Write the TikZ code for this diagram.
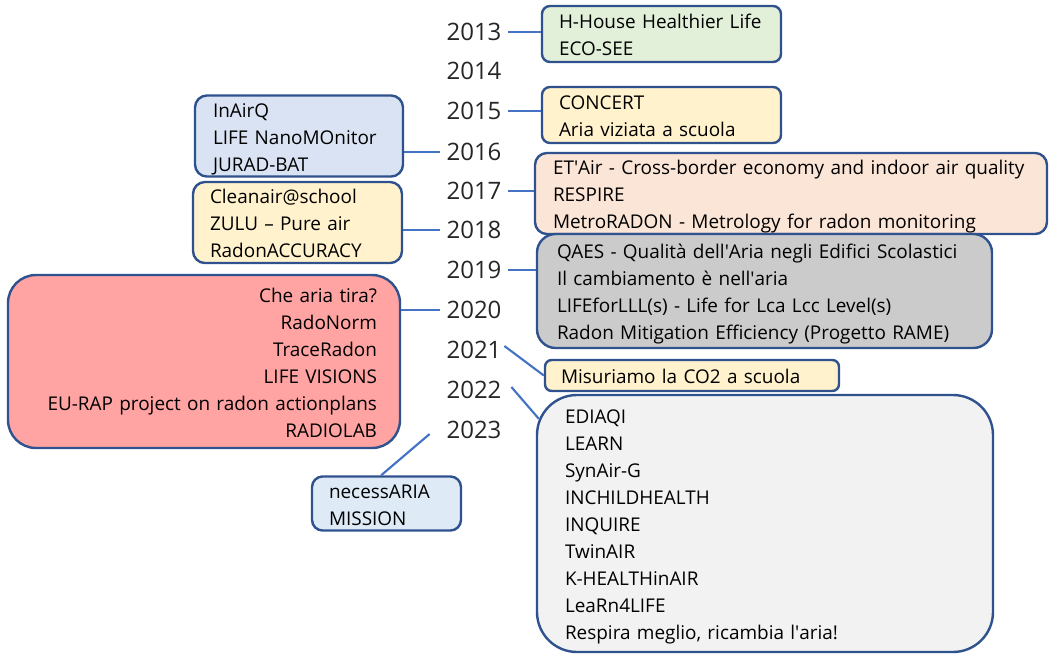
\documentclass[tikz,border=0pt]{standalone}
\usepackage{fontspec}
\setmainfont{Open Sans}
\definecolor{bord}{HTML}{2F528F}
\definecolor{conn}{HTML}{4472C4}
\definecolor{fgreen}{HTML}{E2F0D9}
\definecolor{fyellow}{HTML}{FFF2CC}
\definecolor{fblue}{HTML}{DAE3F3}
\definecolor{forange}{HTML}{FBE5D6}
\definecolor{fgray}{HTML}{CBCBCB}
\definecolor{fred}{HTML}{FFA3A3}
\definecolor{flight}{HTML}{F2F2F2}
\definecolor{fsky}{HTML}{DEEBF7}
\newcommand{\apos}{\textquotesingle}
\newcommand{\mytopstrut}{\rule{0pt}{16.5pt}}
\newcommand{\mybotstrut}{\rule[-3.8pt]{0pt}{3.8pt}}
\tikzset{
  box/.style={draw=bord, line width=1.8pt, rounded corners=6pt, align=left, inner ysep=0pt,
    font=\fontsize{14.2}{20.25}\selectfont, execute at begin node=\mytopstrut, execute at end node=\mybotstrut},
  year/.style={font=\fontsize{18}{20}\selectfont, inner xsep=5pt, inner ysep=0pt, text=black!85},
  link/.style={draw=conn, line width=1.6pt}
}
\begin{document}
\begin{tikzpicture}[x=0.75pt,y=-0.75pt]
\useasboundingbox (0,0) rectangle (1051,654);
% years
\node[year] (y2013) at (474,32) {2013};
\node[year] (y2014) at (474,71) {2014};
\node[year] (y2015) at (474,111) {2015};
\node[year] (y2016) at (474,152) {2016};
\node[year] (y2017) at (474,191) {2017};
\node[year] (y2018) at (474,230) {2018};
\node[year] (y2019) at (474,270) {2019};
\node[year] (y2020) at (474,310) {2020};
\node[year] (y2021) at (474,350) {2021};
\node[year] (y2022) at (474,390) {2022};
\node[year] (y2023) at (474,430) {2023};
% boxes
\node[box, fill=fgreen, minimum width=179.25pt, minimum height=42pt, inner xsep=12.75pt, text width=153.75pt]
  (b13) at (661.5,34) {H-House Healthier Life\\ECO-SEE};
\node[box, fill=fyellow, minimum width=179.25pt, minimum height=42pt, inner xsep=12.75pt, text width=153.75pt]
  (b15) at (661.5,115) {CONCERT\\Aria viziata a scuola};
\node[box, fill=fblue, rounded corners=9pt, minimum width=156pt, minimum height=58.5pt, inner xsep=13.5pt, text width=129pt]
  (b16) at (299,136) {InAirQ\\LIFE NanoMOnitor\\JURAD-BAT};
\node[box, fill=fyellow, rounded corners=9pt, minimum width=156.75pt, minimum height=60.75pt, inner xsep=12.75pt, text width=131.25pt]
  (b18) at (297.5,222.5) {Cleanair@school\\ZULU – Pure air\\RadonACCURACY};
\node[box, fill=forange, rounded corners=9pt, minimum width=384pt, minimum height=57.75pt, inner xsep=13.5pt, text width=357pt]
  (b17) at (791,193.5) {ET\apos Air - Cross-border economy and indoor air quality\\RESPIRE\\MetroRADON - Metrology for radon monitoring};
\node[box, fill=fgray, rounded corners=14pt, minimum width=341.25pt, minimum height=85.5pt, inner xsep=15pt, text width=311.25pt]
  (b19) at (764.5,291) {QAES - Qualità dell\apos Aria negli Edifici Scolastici\\Il cambiamento è nell\apos aria\\LIFEforLLL(s) - Life for Lca Lcc Level(s)\\Radon Mitigation Efficiency (Progetto RAME)};
\node[box, fill=fred, align=right, rounded corners=21pt, minimum width=294pt, minimum height=129.75pt, inner xsep=17.25pt, text width=259.5pt]
  (b20) at (204,361.5) {Che aria tira?\\RadoNorm\\TraceRadon\\LIFE VISIONS\\EU-RAP project on radon actionplans\\RADIOLAB};
\node[box, fill=fyellow, rounded corners=5pt, minimum width=220.5pt, minimum height=23.25pt, inner xsep=12pt, text width=196.5pt]
  (b21) at (692,375.5) {Misuriamo la CO2 a scuola};
\node[box, fill=flight, rounded corners=30pt, minimum width=342pt, minimum height=192.75pt, inner xsep=21pt, text width=300pt]
  (b22) at (765,523.5) {EDIAQI\\LEARN\\SynAir-G\\INCHILDHEALTH\\INQUIRE\\TwinAIR\\K-HEALTHinAIR\\LeaRn4LIFE\\Respira meglio, ricambia l\apos aria!};
\node[box, fill=fsky, rounded corners=8pt, minimum width=111.75pt, minimum height=39.75pt, inner xsep=12.75pt, text width=86.25pt]
  (b23) at (386.5,503.5) {necessARIA\\MISSION};
% connectors
\draw[link] (y2013.east) -- (b13.west |- y2013);
\draw[link] (y2015.east) -- (b15.west |- y2015);
\draw[link] (b16.east |- y2016) -- (y2016.west);
\draw[link] (y2017.east) -- (b17.west |- y2017);
\draw[link] (b18.east |- y2018) -- (y2018.west);
\draw[link] (y2019.east) -- (b19.west |- y2019);
\draw[link] (b20.east |- y2020) -- (y2020.west);
\draw[link] ([shift={(-4,-4)}]y2021.east) -- (b21.west);
\draw[link] ([shift={(3,-3)}]y2022.east) -- ([shift={(3,25)}]b22.north west);
\draw[link] ([shift={(-10,4)}]y2023.west) -- ([xshift=-4]b23.north);
\end{tikzpicture}
\end{document}
